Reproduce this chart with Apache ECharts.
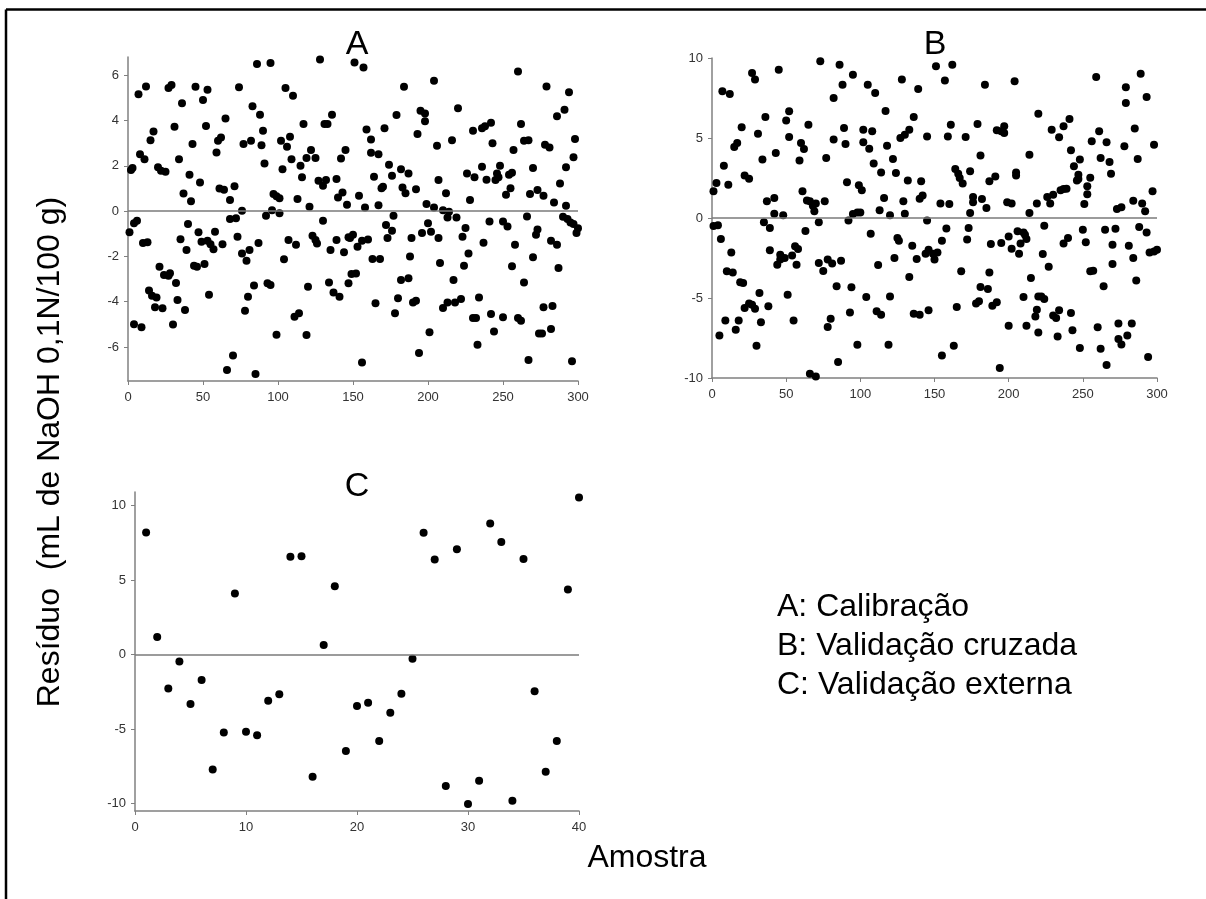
<!DOCTYPE html>
<html><head><meta charset="utf-8">
<script src="https://cdn.jsdelivr.net/npm/echarts@6/dist/echarts.min.js"></script>
<style>html,body{margin:0;padding:0;background:#fff}#c{width:1206px;height:899px}</style>
</head><body><div id="c"></div>
<script>
// Panel A: Calibração  [amostra, resíduo]
const calibracao = [
[1,-0.94],[2,1.81],[3,1.9],[4,-0.54],[6,-0.43],[7,5.16],[12,5.5],[8,2.51],[11,2.29],[4,-4.99],[9,-5.13],[10,-1.41],[13,-1.38],[15,3.13],[17,3.51],[14,-3.51],[16,-3.74],[19,-3.81],[18,-4.25],[23,-4.29],[20,1.93],[22,1.78],[25,1.74],[21,-2.46],[24,-2.82],[27,-2.85],[28,-2.74],[32,-3.18],[33,-3.93],[30,-5.01],[27,5.43],[29,5.56],[31,3.72],[34,2.29],[36,4.76],[37,0.78],[35,-1.24],[39,-1.72],[40,-0.57],[41,1.6],[42,0.43],[43,2.96],[38,-4.37],[44,-2.41],[46,-2.46],[45,5.49],[47,-0.94],[48,1.26],[50,4.9],[52,3.75],[53,5.35],[49,-1.35],[51,-2.34],[53,-1.31],[55,-1.46],[54,-3.69],[57,-1.68],[58,-0.91],[59,2.59],[60,3.1],[62,3.25],[63,-1.46],[61,1.0],[64,0.94],[65,4.09],[68,0.49],[68,-0.35],[70,-6.38],[66,-7.01],[71,1.09],[72,-0.32],[73,-1.13],
[86,6.49],[95,6.54],[128,6.69],[74,5.46],[83,4.63],[88,4.25],[105,5.43],[110,5.09],[90,3.54],[117,3.84],[131,3.84],[133,3.84],[136,4.25],[77,2.96],[82,3.1],[89,2.91],[91,2.1],[102,3.1],[106,2.84],[108,3.28],[109,2.29],[103,1.85],[115,2.0],[116,1.49],[119,2.34],[122,2.69],[125,2.34],[127,1.34],[130,1.12],[132,1.37],[139,1.41],[142,2.32],[145,2.69],[140,0.6],[143,0.82],[146,0.28],[97,0.75],[99,0.65],[101,0.57],[113,0.53],[121,0.19],[76,0.01],[92,-0.21],[96,0.04],[101,-0.1],[130,-0.43],[76,-1.87],[79,-2.19],[81,-1.72],[87,-1.41],[104,-2.13],[107,-1.28],[112,-1.49],[123,-1.09],[125,-1.28],[126,-1.43],[135,-1.72],[139,-1.28],[144,-1.82],[147,-1.16],[84,-3.29],[80,-3.78],[78,-4.4],[93,-3.19],[95,-3.26],[120,-3.34],[134,-3.15],[137,-3.59],[141,-3.78],[147,-3.19],[111,-4.66],[114,-4.51],[99,-5.46],[119,-5.47],[85,-7.19],
[151,6.56],[157,6.34],[184,5.49],[204,5.75],[179,4.24],[195,4.43],[198,4.31],[198,3.96],[193,3.4],[206,2.88],[216,3.13],[220,4.54],[159,3.6],[162,3.16],[171,3.66],[162,2.57],[167,2.51],[174,2.04],[176,1.56],[182,1.85],[187,1.66],[164,1.51],[169,1.01],[170,1.07],[183,1.04],[185,0.79],[192,0.96],[207,1.37],[212,0.79],[154,0.68],[158,0.16],[167,0.26],[199,0.31],[204,0.16],[210,0.04],[213,-0.28],[214,-0.03],[219,-0.28],[177,-0.21],[172,-0.62],[176,-0.87],[173,-1.19],[200,-0.54],[196,-0.97],[202,-0.91],[207,-1.19],[189,-1.19],[150,-1.04],[148,-1.19],[153,-1.57],[156,-1.31],[160,-1.26],[163,-2.12],[168,-2.12],[188,-2.0],[208,-2.29],[149,-2.78],[152,-2.75],[182,-3.04],[187,-2.96],[217,-3.04],[165,-4.07],[180,-3.85],[190,-4.03],[192,-3.96],[210,-4.28],[213,-4.04],[218,-4.03],[178,-4.51],[201,-5.35],[194,-6.26],[156,-6.68],
[260,6.16],[279,5.5],[294,5.24],[291,4.47],[286,4.19],[230,3.54],[236,3.66],[238,3.74],[242,3.9],[243,2.99],[262,3.84],[264,3.1],[267,3.13],[257,2.69],[278,2.93],[281,2.81],[298,3.18],[297,2.37],[292,1.93],[226,1.66],[231,1.49],[236,1.96],[239,1.38],[248,2.0],[246,1.66],[247,1.49],[245,1.37],[254,1.6],[256,1.69],[270,1.9],[255,1.01],[252,0.72],[268,0.75],[273,0.93],[277,0.68],[288,1.22],[284,0.38],[292,0.24],[228,0.49],[290,-0.25],[293,-0.35],[295,-0.5],[297,-0.57],[300,-0.76],[299,-0.97],[241,-0.46],[250,-0.46],[253,-0.68],[266,-0.24],[273,-0.81],[272,-1.04],[225,-0.75],[223,-1.13],[237,-1.4],[258,-1.49],[282,-1.31],[286,-1.49],[227,-1.87],[224,-2.41],[256,-2.43],[270,-2.04],[287,-2.51],[264,-3.15],[222,-3.88],[234,-3.81],[242,-4.54],[250,-4.69],[230,-4.72],[232,-4.72],[244,-5.31],[233,-5.9],[260,-4.72],[262,-4.84],[277,-4.25],[283,-4.19],[274,-5.4],[276,-5.4],[282,-5.21],[267,-6.57],[296,-6.63]
];
// Panel B: Validação cruzada  [amostra, resíduo]
const validacaoCruzada = [
[1,1.67],[3,2.19],[1,-0.5],[4,-0.45],[6,-1.31],[7,7.92],[12,7.75],[8,3.27],[11,2.08],[10,-3.33],[13,-2.15],[14,-3.4],[9,-6.4],[5,-7.35],[16,-6.98],[18,-6.4],[15,4.44],[17,4.69],[20,5.67],[19,-4.02],[21,-4.06],[22,2.65],[25,2.46],[22,-5.63],[25,-5.35],[27,-5.42],[29,-5.67],[27,9.06],[29,8.65],[30,-7.98],[33,-6.52],[32,-4.69],[31,5.27],[34,3.65],[35,-0.27],[37,1.04],[36,6.31],[38,-5.52],[39,-0.62],[39,-2.02],[42,1.25],[42,0.27],[43,4.06],[45,9.27],[44,-2.92],[46,-2.6],[46,-2.29],[48,0.17],[49,-2.5],[50,6.1],[52,6.67],[52,5.06],[51,-4.79],[54,-2.35],[56,-1.77],[58,-1.94],[57,-2.92],[55,-6.4],[59,3.6],[60,4.69],[62,4.31],[65,5.83],[61,1.67],[64,1.1],[63,-0.81],[66,1.04],[68,0.77],[69,0.42],[70,0.9],[72,-0.27],[72,-2.81],[66,-9.73],[70,-9.9],[73,9.79],
[86,9.58],[95,8.96],[88,8.33],[82,7.5],[105,8.33],[110,7.81],[128,8.65],[139,8.06],[117,6.69],[136,6.31],[89,5.63],[82,4.9],[90,4.63],[102,5.52],[108,5.42],[102,4.73],[106,4.33],[118,4.52],[127,5.0],[130,5.21],[133,5.52],[145,5.1],[77,3.75],[109,3.4],[114,2.85],[122,3.69],[124,2.81],[132,2.35],[141,2.29],[91,2.23],[99,2.04],[101,1.73],[76,1.04],[116,1.25],[113,0.48],[120,0.17],[129,1.04],[130,0.27],[140,1.21],[142,1.4],[92,-0.15],[95,0.25],[98,0.35],[100,0.35],[145,-0.15],[107,-0.98],[125,-1.25],[126,-1.42],[135,-1.73],[138,-2.56],[144,-2.23],[146,-1.98],[123,-2.5],[112,-2.94],[133,-3.69],[75,-3.31],[78,-2.6],[81,-2.85],[87,-2.67],[84,-4.27],[94,-4.33],[104,-4.94],[120,-4.9],[93,-5.9],[111,-5.83],[114,-6.04],[136,-5.98],[140,-6.04],[146,-5.77],[80,-6.29],[78,-6.81],[98,-7.92],[119,-7.92],[85,-9.0],
[151,9.48],[162,9.58],[157,8.6],[184,8.33],[204,8.54],[220,6.52],[161,5.83],[159,5.1],[179,5.88],[171,5.06],[192,5.48],[195,5.42],[197,5.73],[197,5.31],[181,3.9],[214,3.96],[164,3.06],[166,2.77],[167,2.5],[169,2.15],[174,2.92],[187,2.29],[191,2.6],[205,2.85],[205,2.65],[154,0.9],[160,0.88],[176,1.31],[176,0.98],[182,1.19],[185,0.63],[174,0.31],[199,0.98],[202,0.9],[214,0.31],[219,0.9],[158,-0.65],[173,-0.63],[155,-1.42],[172,-1.35],[188,-1.63],[195,-1.56],[200,-1.15],[202,-1.92],[206,-0.83],[210,-0.9],[211,-1.04],[212,-1.31],[208,-1.6],[207,-2.23],[149,-2.23],[150,-2.6],[152,-2.15],[168,-3.33],[187,-3.4],[181,-4.31],[186,-4.44],[178,-5.35],[180,-5.21],[189,-5.48],[192,-5.27],[165,-5.56],[215,-3.75],[210,-4.94],[220,-4.9],[219,-5.73],[218,-6.15],[200,-6.73],[212,-6.73],[220,-7.15],[163,-7.98],[155,-8.6],[194,-9.38],
[259,8.81],[289,9.02],[279,8.17],[279,7.19],[293,7.56],[241,6.19],[237,5.73],[229,5.52],[234,5.04],[261,5.42],[285,5.6],[256,4.79],[266,4.73],[278,4.48],[298,4.58],[242,4.23],[248,3.65],[244,3.23],[262,3.75],[268,3.5],[269,2.77],[287,3.69],[247,2.71],[247,2.44],[255,2.52],[246,2.35],[253,1.98],[253,1.48],[237,1.81],[239,1.83],[235,1.73],[230,1.46],[226,1.31],[228,0.9],[251,0.88],[297,1.67],[284,1.08],[290,0.9],[292,0.42],[273,0.56],[276,0.67],[224,-0.48],[250,-0.73],[252,-1.52],[265,-0.73],[272,-0.67],[288,-0.56],[293,-0.9],[237,-1.6],[240,-1.25],[270,-1.67],[281,-1.73],[284,-2.5],[295,-2.15],[298,-2.1],[300,-1.98],[223,-2.25],[227,-3.04],[270,-2.88],[255,-3.33],[257,-3.29],[286,-3.9],[264,-4.27],[222,-4.9],[224,-5.06],[230,-6.1],[232,-6.25],[234,-5.77],[242,-5.94],[233,-7.4],[243,-7.02],[248,-8.13],[262,-8.17],[260,-6.83],[266,-9.19],[274,-6.6],[274,-7.56],[276,-7.9],[283,-6.6],[280,-7.35],[294,-8.69]
];
// Panel C: Validação externa
const externaAmostra = [1,2,3,4,5,6,7,8,9,10,11,12,13,14,15,16,17,18,19,20,21,22,23,24,25,26,27,28,29,30,31,32,33,34,35,36,37,38,39,40];
const externaResiduo = [8.18,1.18,-2.28,-0.47,-3.33,-1.72,-7.71,-5.23,4.09,-5.18,-5.41,-3.11,-2.66,6.55,6.59,-8.2,0.63,4.58,-6.48,-3.46,-3.24,-5.81,-3.91,-2.64,-0.29,8.16,6.37,-8.83,7.06,-10.03,-8.47,8.78,7.55,-9.81,6.41,-2.46,-7.87,-5.81,4.36,10.53];

const panelTitles = ['A','B','C'];
const legendLines = ['A: Calibração','B: Validação cruzada','C: Validação externa'];
const yTitle = 'Resíduo  (mL de NaOH 0,1N/100 g)';
const xTitle = 'Amostra';
const yTicksA = [-6,-4,-2,0,2,4,6];
const yTicksB = [-10,-5,0,5,10];
const yTicksC = [-10,-5,0,5,10];
const xTicksAB = [0,50,100,150,200,250,300];
const xTicksC = [0,10,20,30,40];

const FONT = '"Liberation Sans", Arial, sans-serif';
const AX = '#808080';

function xAxis(grid, max, ticks){
  return {type:'value', gridIndex:grid, min:0, max:max,
    axisLine:{show:true, onZero:false, lineStyle:{color:AX, width:1.5}},
    axisTick:{show:true, inside:false, length:4, lineStyle:{color:AX, width:1}, customValues:ticks},
    axisLabel:{color:'#333', fontSize:13, fontFamily:FONT, margin:10, customValues:ticks},
    splitLine:{show:false}};
}
function yAxis(grid, min, max, ticks){
  return {type:'value', gridIndex:grid, min:min, max:max,
    axisLine:{show:true, onZero:false, lineStyle:{color:AX, width:1.5}},
    axisTick:{show:true, inside:false, length:4, lineStyle:{color:AX, width:1}, customValues:ticks},
    axisLabel:{color:'#333', fontSize:13, fontFamily:FONT, margin:9, customValues:ticks},
    splitLine:{show:false}};
}
function zeroLine(){
  return {silent:true, symbol:['none','none'], label:{show:false},
    lineStyle:{color:'#7a7a7a', width:1.5, type:'solid'}, data:[{yAxis:0}], animation:false};
}
const dotStyle = {color:'#000', opacity:1};

const chart = echarts.init(document.getElementById('c'), null, {renderer:'canvas'});
chart.setOption({
  animation:false,
  backgroundColor:'#fff',
  grid:[
    {left:128, top:57, width:450, height:324},
    {left:712, top:58, width:445, height:320},
    {left:135, top:492, width:444, height:319}
  ],
  xAxis:[xAxis(0,300,xTicksAB), xAxis(1,300,xTicksAB), xAxis(2,40,xTicksC)],
  yAxis:[yAxis(0,-7.5,6.8,yTicksA), yAxis(1,-10,10,yTicksB), yAxis(2,-10.5,10.9,yTicksC)],
  series:[
    {type:'scatter', xAxisIndex:0, yAxisIndex:0, data:calibracao, symbolSize:8, itemStyle:dotStyle, markLine:zeroLine()},
    {type:'scatter', xAxisIndex:1, yAxisIndex:1, data:validacaoCruzada, symbolSize:8, itemStyle:dotStyle, markLine:zeroLine()},
    {type:'scatter', xAxisIndex:2, yAxisIndex:2, data:externaAmostra.map((a,i)=>[a, externaResiduo[i]]), symbolSize:8, itemStyle:dotStyle, markLine:zeroLine()}
  ],
  graphic:[
    {type:'line', shape:{x1:6, y1:9.5, x2:1206, y2:9.5}, style:{stroke:'#000', lineWidth:2.5}},
    {type:'line', shape:{x1:6, y1:9.5, x2:6, y2:899}, style:{stroke:'#000', lineWidth:2.5}},
    {type:'text', x:357, y:45, style:{text:panelTitles[0], font:'34px '+FONT, fill:'#000', textAlign:'center', textVerticalAlign:'middle'}},
    {type:'text', x:935, y:45, style:{text:panelTitles[1], font:'34px '+FONT, fill:'#000', textAlign:'center', textVerticalAlign:'middle'}},
    {type:'text', x:357, y:487, style:{text:panelTitles[2], font:'34px '+FONT, fill:'#000', textAlign:'center', textVerticalAlign:'middle'}},
    {type:'text', x:50, y:452, rotation:Math.PI/2, style:{text:yTitle, font:'32px '+FONT, fill:'#000', textAlign:'center', textVerticalAlign:'middle'}},
    {type:'text', x:647, y:858, style:{text:xTitle, font:'32px '+FONT, fill:'#000', textAlign:'center', textVerticalAlign:'middle'}},
    {type:'text', x:777, y:607, style:{text:legendLines[0], font:'32px '+FONT, fill:'#000', textAlign:'left', textVerticalAlign:'middle'}},
    {type:'text', x:777, y:646, style:{text:legendLines[1], font:'32px '+FONT, fill:'#000', textAlign:'left', textVerticalAlign:'middle'}},
    {type:'text', x:777, y:685, style:{text:legendLines[2], font:'32px '+FONT, fill:'#000', textAlign:'left', textVerticalAlign:'middle'}}
  ]
});
</script></body></html>
